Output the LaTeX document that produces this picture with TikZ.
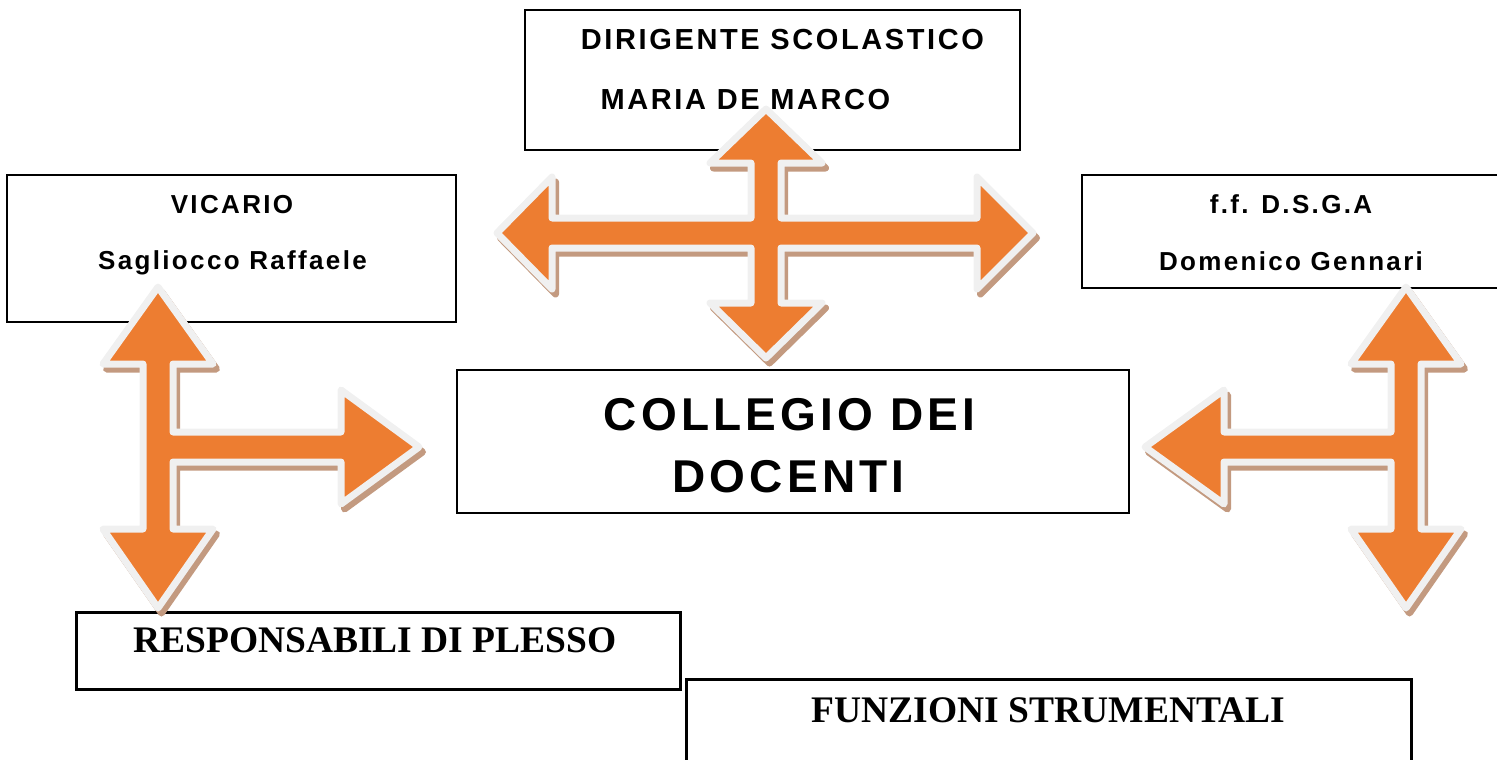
\documentclass[tikz,border=0pt]{standalone}
\usepackage{fontspec}
\setmainfont{Liberation Serif}
\newfontfamily\boxsans[LetterSpace=9]{Liberation Sans}
\usetikzlibrary{positioning}
\definecolor{arroworange}{HTML}{ED7D31}
\definecolor{arrowrim}{HTML}{F0F0F0}
\definecolor{arrowshadow}{HTML}{C39A80}
\tikzset{
x=1pt, y=-1pt, % one unit is one pixel of the sheet, y runs downwards
box/.style={draw, line width=2pt, inner sep=0pt}, % frame of each office
thickbox/.style={box, line width=3pt}, % the two lower frames
role/.style={anchor=base, inner sep=0pt, font=\boxsans\bfseries\fontsize{29pt}{34pt}\selectfont},
person/.style={anchor=base, inner sep=0pt, font=\boxsans\bfseries\fontsize{26pt}{31pt}\selectfont},
title/.style={anchor=base, inner sep=0pt, font=\boxsans\bfseries\fontsize{46pt}{54pt}\selectfont},
serif/.style={anchor=base, inner sep=0pt, font=\bfseries\fontsize{37.5pt}{44pt}\selectfont},
bigarrow/.style={fill=arroworange, draw=arrowrim, line width=7pt, line join=round,
  preaction={draw=arrowshadow, fill=arrowshadow, line width=7pt, line join=round,
    transform canvas={shift={(3.5pt,-5pt)}}}}, % block arrow with its shadow
}

\begin{document}
\begin{tikzpicture}
        \useasboundingbox (0,0) rectangle (1497,760);

        % frames
        \node[box, minimum width=495pt, minimum height=140pt] (dirigente) at (772.5,80) {};
        \node[box, minimum width=449pt, minimum height=147pt] (vicario) at (231.5,248.5) {};
        \node[box, minimum width=428pt, minimum height=113pt] (dsga) at (1296,231.5) {};
        \node[box, minimum width=672pt, minimum height=143pt] (collegio) at (793,441.5) {};
        \node[thickbox, minimum width=604pt, minimum height=77pt] (plesso) at (378,650.5) {};
        \node[thickbox, minimum width=725pt, minimum height=96pt] (funzioni) at (1048.5,727) {};

        % texts
        \node[role] (dirtitle) at (782.5,50) {DIRIGENTE SCOLASTICO};
        \node[role] (dirname) at (745.5,110) {MARIA DE MARCO};
        \node[person] (victitle) at (232,213) {VICARIO};
        \node[person] (vicname) at (232.5,269) {Sagliocco Raffaele};
        \node[person] (dsgatitle) at (1291,213) {f.f. D.S.G.A};
        \node[person] (dsganame) at (1291,270) {Domenico Gennari};
        \node[title] (coltop) at (789.5,430) {COLLEGIO DEI};
        \node[title] (colbottom) at (788.5,492) {DOCENTI};
        \node[serif] (plessotext) at (375,652) {RESPONSABILI DI PLESSO};
        \node[serif] (funztext) at (1048.5,722) {FUNZIONI STRUMENTALI};

        % four-way arrow below the head
        \begin{scope}[shift={(766,233)}]
        \draw[bigarrow] (-269,0) -- (-214,-56) -- (-214,-15) -- (-15,-15) -- (-15,-70)
          -- (-56,-70) -- (0,-124) -- (56,-70) -- (15,-70) -- (15,-15) -- (211,-15)
          -- (211,-56) -- (267,0) -- (211,56) -- (211,15) -- (15,15) -- (15,70)
          -- (56,70) -- (0,125) -- (-56,70) -- (-15,70) -- (-15,15) -- (-214,15)
          -- (-214,56) -- cycle;
        \end{scope}

        % three-way arrow on the left
        \begin{scope}[shift={(158,447)}]
        \draw[bigarrow] (0,-160) -- (55,-83) -- (15,-83) -- (15,-15) -- (183,-15)
          -- (183,-57) -- (261,0) -- (183,57) -- (183,15) -- (15,15) -- (15,82)
          -- (55,82) -- (0,161) -- (-55,82) -- (-15,82) -- (-15,-83) -- (-55,-83) -- cycle;
        \end{scope}

        % three-way arrow on the right
        \begin{scope}[shift={(1406,447)}]
        \draw[bigarrow] (0,-160) -- (55,-83) -- (15,-83) -- (15,82) -- (55,82)
          -- (0,161) -- (-55,82) -- (-15,82) -- (-15,15) -- (-182,15) -- (-182,57)
          -- (-261,0) -- (-182,-57) -- (-182,-15) -- (-15,-15) -- (-15,-83) -- (-55,-83) -- cycle;
        \end{scope}
      \end{tikzpicture}
\end{document}
